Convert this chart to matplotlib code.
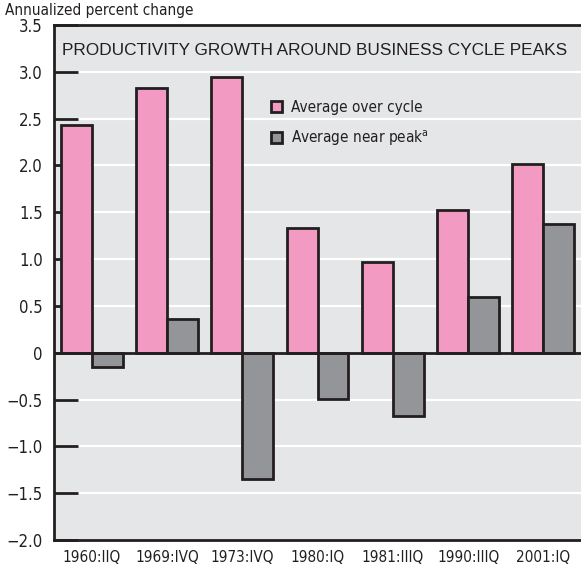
import matplotlib
matplotlib.use('Agg')
import matplotlib.pyplot as plt
import numpy as np

# Données
peaks = ['1960:IIQ', '1969:IVQ', '1973:IVQ', '1980:IQ', '1981:IIIQ', '1990:IIIQ', '2001:IQ']
avg_cycle = [2.43, 2.83, 2.95, 1.33, 0.97, 1.52, 2.02]
avg_peak = [-0.15, 0.36, -1.35, -0.49, -0.68, 0.60, 1.38]
yticks = [-2.0, -1.5, -1.0, -0.5, 0, 0.5, 1.0, 1.5, 2.0, 2.5, 3.0, 3.5]
ytick_labels = ['\u22122.0', '\u22121.5', '\u22121.0', '\u22120.5', '0', '0.5', '1.0', '1.5', '2.0', '2.5', '3.0', '3.5']

narrow = dict(family='DejaVu Sans', stretch='condensed')
pink = '#f39ac2'
grey = '#939598'
bg = '#e5e6e8'

fig = plt.figure(figsize=(5.81, 5.72), dpi=100)
ax = fig.add_axes([54 / 581, 32 / 572, 527 / 581, 515 / 572])
ax.set_facecolor(bg)

x = np.arange(len(peaks))
w = 0.41
ax.bar(x - w / 2, avg_cycle, w, color=pink, edgecolor='#231f20', linewidth=2, zorder=3,
       label='Average over cycle')
ax.bar(x + w / 2, avg_peak, w, color=grey, edgecolor='#231f20', linewidth=2, zorder=3,
       label='Average near peak$^{\\mathregular{a}}$')

# Grille blanche et ligne zéro
for yv in yticks:
    if yv not in (0, -2.0, 3.5):
        ax.axhline(yv, color='white', lw=1.6, zorder=1)
ax.axhline(0, color='#231f20', lw=2, zorder=4)

ax.set_xlim(-0.5, 6.5)
ax.set_ylim(-2.0, 3.5)
ax.set_yticks(yticks)
ax.set_yticklabels(ytick_labels, fontsize=12, color='#231f20', **narrow)
ax.set_xticks(x)
ax.set_xticklabels(peaks, fontsize=11, color='#231f20', **narrow)
ax.tick_params(axis='y', direction='in', length=17, width=2, color='#231f20', pad=8)
ax.tick_params(axis='x', length=0, pad=7)

for s in ['left', 'bottom', 'top']:
    ax.spines[s].set_linewidth(2)
    ax.spines[s].set_color('#231f20')
ax.spines['right'].set_visible(False)

ax.text(0.016, 0.965, 'PRODUCTIVITY GROWTH AROUND BUSINESS CYCLE PEAKS', transform=ax.transAxes,
        family=['Liberation Sans', 'DejaVu Sans'], fontsize=12.45, color='#231f20', va='top', ha='left')

leg = ax.legend(loc='upper left', bbox_to_anchor=(0.385, 0.881), frameon=False,
                prop=dict(size=11, **narrow), handlelength=0.75, handleheight=0.75,
                handletextpad=0.55, labelspacing=0.85)
for t in leg.get_texts():
    t.set_color('#231f20')

fig.text(5 / 581, 1 - 10 / 572, 'Annualized percent change', fontsize=11,
         color='#231f20', va='center', ha='left', **narrow)

plt.savefig('out.png', dpi=100, facecolor='white')
